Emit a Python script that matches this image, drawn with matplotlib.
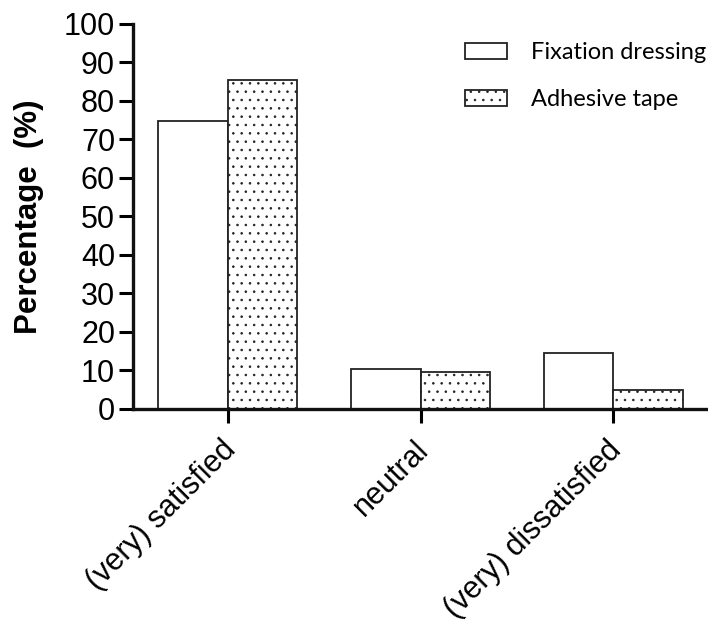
import matplotlib
matplotlib.use('Agg')
import matplotlib.pyplot as plt
import matplotlib.transforms as mtransforms
import numpy as np

categories = ['(very) satisfied', 'neutral', '(very) dissatisfied']
fixation = [74.8, 10.4, 14.5]
tape = [85.3, 9.6, 4.8]
series_names = ['Fixation dressing', 'Adhesive tape']
yticks = [0, 10, 20, 30, 40, 50, 60, 70, 80, 90, 100]

plt.rcParams['font.family'] = ['Liberation Sans', 'DejaVu Sans']
plt.rcParams['hatch.linewidth'] = 0.6

fig = plt.figure(figsize=(7.08, 6.28), dpi=100)
ax = fig.add_axes([0.188, 0.349, 0.812, 0.613])

x = np.arange(len(categories))
w = 0.36
ax.bar(x - w / 2, fixation, w, facecolor='white', edgecolor='#222222',
       linewidth=1.3, label=series_names[0])
ax.bar(x + w / 2, tape, w, facecolor='white', edgecolor='#222222',
       linewidth=1.3, hatch='..', label=series_names[1])

ax.set_xlim(-0.49, 2.49)
ax.set_ylim(0, 100)
ax.set_yticks(yticks)
ax.set_xticks(x)
ax.set_xticklabels([])
ax.tick_params(axis='y', labelsize=22, length=10, width=2.2, pad=3)
ax.tick_params(axis='x', length=10, width=2.2)

# rotated category labels, anchored just below the ticks
offset = mtransforms.ScaledTranslation(-7 / 100, -26 / 100, fig.dpi_scale_trans)
for xi, name in zip(x, categories):
    ax.text(xi, 0, name, transform=ax.get_xaxis_transform() + offset,
            rotation=45, ha='right', va='top', rotation_mode='anchor',
            fontsize=22)

for s in ['top', 'right']:
    ax.spines[s].set_visible(False)
for s in ['left', 'bottom']:
    ax.spines[s].set_linewidth(2.4)
    ax.spines[s].set_color('#111111')

ax.set_ylabel('Percentage  (%)', fontsize=22.5, fontweight='bold', labelpad=14)

ax.legend(loc='upper left', bbox_to_anchor=(465 / 708, 1 - 42 / 628),
          bbox_transform=fig.transFigure, frameon=False, borderpad=0,
          borderaxespad=0, handlelength=1.78, handleheight=0.68,
          handletextpad=1.0, labelspacing=1.1,
          prop={'family': 'Lato', 'size': 17})

fig.savefig('out.png', dpi=100)
